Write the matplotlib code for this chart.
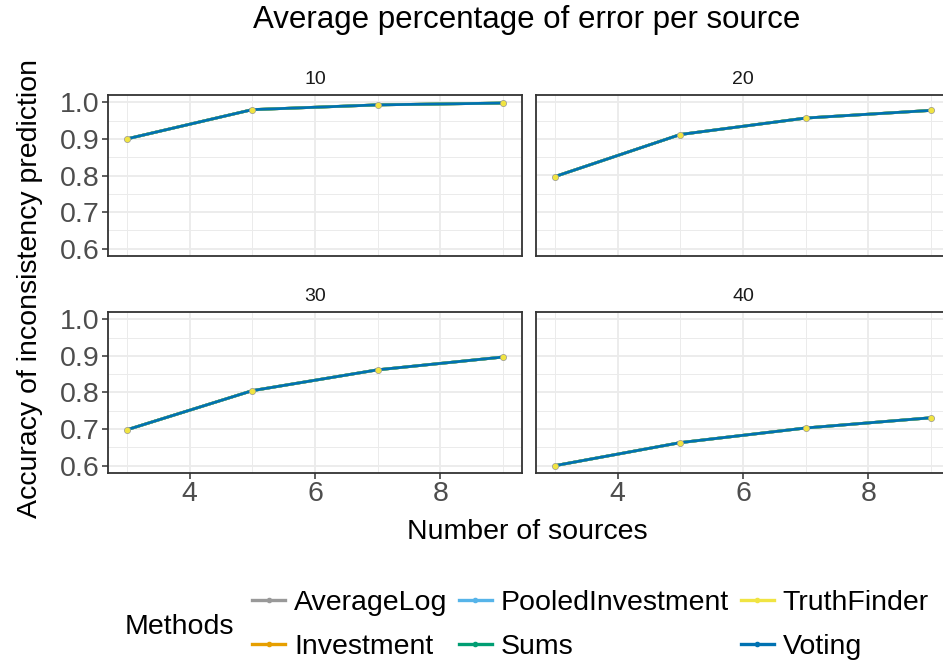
import matplotlib
matplotlib.use("Agg")
import matplotlib.pyplot as plt
from matplotlib.lines import Line2D
from matplotlib.ticker import MultipleLocator

plt.rcParams['font.family'] = ['Liberation Sans', 'DejaVu Sans']

num_sources = [3, 5, 7, 9]
facets = ["10", "20", "30", "40"]
acc_10 = [0.900, 0.980, 0.993, 0.998]
acc_20 = [0.797, 0.912, 0.957, 0.978]
acc_30 = [0.698, 0.805, 0.862, 0.897]
acc_40 = [0.600, 0.663, 0.703, 0.731]
facet_values = [acc_10, acc_20, acc_30, acc_40]

methods = ["AverageLog", "Investment", "PooledInvestment", "Sums", "TruthFinder", "Voting"]
colors = ["#999999", "#E69F00", "#56B4E9", "#009E73", "#F0E442", "#0072B2"]

BASE = 20.5
W, H = 943, 665
fig = plt.figure(figsize=(W / 100, H / 100), dpi=100)

def ax_rect(x0, y0, x1, y1):
    return [x0 / W, 1 - y1 / H, (x1 - x0) / W, (y1 - y0) / H]

rects = [ax_rect(108, 95, 522, 256), ax_rect(536, 95, 950, 256),
         ax_rect(108, 312, 522, 473), ax_rect(536, 312, 950, 473)]

for i, (r, lab, vals) in enumerate(zip(rects, facets, facet_values)):
    ax = fig.add_axes(r)
    ax.set_xlim(2.7, 9.3)
    ax.set_ylim(0.58, 1.02)
    ax.xaxis.set_major_locator(MultipleLocator(2))
    ax.xaxis.set_minor_locator(MultipleLocator(1))
    ax.yaxis.set_major_locator(MultipleLocator(0.1))
    ax.yaxis.set_minor_locator(MultipleLocator(0.05))
    ax.grid(which='major', color='#EBEBEB', lw=1.3, zorder=0)
    ax.grid(which='minor', color='#EBEBEB', lw=0.7, zorder=0)
    ax.set_axisbelow(True)
    for s in ax.spines.values():
        s.set_color('#333333')
        s.set_linewidth(1.3)
    ax.tick_params(which='minor', length=0)
    ax.tick_params(which='major', length=4, width=1.1, color='#333333',
                   labelsize=BASE, labelcolor='#4D4D4D', pad=2)
    if i % 2 == 1:
        ax.tick_params(axis='y', left=False, labelleft=False)
    else:
        ax.set_yticks([0.6, 0.7, 0.8, 0.9, 1.0])
        ax.set_yticklabels(["0.6", "0.7", "0.8", "0.9", "1.0"])
    if i < 2:
        ax.tick_params(axis='x', bottom=False, labelbottom=False)
    ax.set_title(lab, fontsize=14, color='#1A1A1A', pad=8)
    for m, c in zip(methods, colors):
        ax.plot(num_sources, vals, color=c, lw=2.0, zorder=3)
    for m, c in zip(methods, colors):
        if m in ("AverageLog", "TruthFinder"):
            ms = 5.0 if m == "AverageLog" else 4.0
            z = 5 if m == "TruthFinder" else 4
            ax.plot(num_sources, vals, ls='none', marker='o', ms=ms, color=c,
                    mec='none', zorder=z)

fig.text(527 / W, 1 - 20 / H, "Average percentage of error per source",
         ha='center', va='center', fontsize=22.5)
fig.text(527 / W, 1 - 532 / H, "Number of sources", ha='center', va='center',
         fontsize=BASE)
fig.text(30 / W, 1 - 289 / H, "Accuracy of inconsistency prediction", ha='center',
         va='center', rotation=90, fontsize=BASE)

handles = [Line2D([0], [0], color=c, lw=2.4, marker='o', ms=3) for c in colors]
leg = fig.legend(handles, methods,
                 loc='center left', bbox_to_anchor=(252 / W, 1 - 625 / H), ncol=3,
                 frameon=False, fontsize=BASE, handlelength=1.16, handletextpad=0.32,
                 columnspacing=0.4, labelspacing=0.6, borderpad=0, borderaxespad=0)
fig.text(125 / W, 1 - 627 / H, "Methods", ha='left', va='center', fontsize=BASE)

fig.savefig("out.png", dpi=100)
